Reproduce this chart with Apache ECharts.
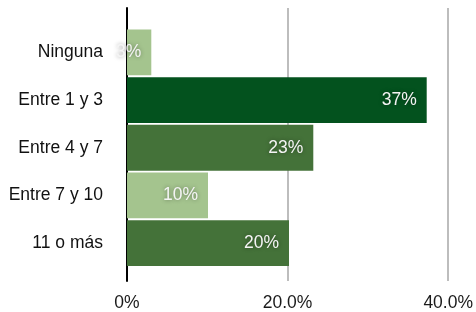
<!DOCTYPE html>
<html><head><meta charset="utf-8">
<script src="https://cdn.jsdelivr.net/npm/echarts@6/dist/echarts.min.js"></script>
<style>html,body{margin:0;padding:0;background:#fff}#c{width:476px;height:312px}</style>
</head><body><div id="c"></div>
<script>
const categories = ['Ninguna', 'Entre 1 y 3', 'Entre 4 y 7', 'Entre 7 y 10', '11 o más'];
const values = [3, 37, 23, 10, 20];
const barColors = ['#a4c48e', '#03521e', '#447239', '#a4c48e', '#447239'];
const tickLabels = {0: '0%', 20: '20.0%', 40: '40.0%'};

const font = '"Liberation Sans", Arial, Helvetica, sans-serif';
const chart = echarts.init(document.getElementById('c'), null, {renderer: 'canvas'});
chart.setOption({
  animation: false,
  grid: [
    {left: 127, right: 25, top: 8, bottom: 25},
    {left: 127, right: 25, top: 28.5, height: 238.5}
  ],
  xAxis: [
    {gridIndex: 0, type: 'value', min: 0, max: 40, interval: 20,
     axisLine: {show: false}, axisTick: {show: false},
     splitLine: {show: true, lineStyle: {color: '#bdbdbd', width: 2}},
     axisLabel: {show: true, margin: 13, fontSize: 17.5, color: '#1a1a1a', fontFamily: font,
       formatter: v => tickLabels[v] ?? ''}},
    {gridIndex: 1, type: 'value', min: 0, max: 40, show: false}
  ],
  yAxis: [
    {gridIndex: 0, type: 'value', min: 0, max: 1,
     axisLine: {show: true, lineStyle: {color: '#000', width: 2}},
     axisTick: {show: false}, axisLabel: {show: false}, splitLine: {show: false}},
    {gridIndex: 1, type: 'category', data: categories, inverse: true,
     axisLine: {show: false}, axisTick: {show: false},
     axisLabel: {margin: 24, fontSize: 17.5, color: '#111', fontFamily: font}}
  ],
  series: [{
    type: 'bar', xAxisIndex: 1, yAxisIndex: 1,
    data: values.map((v, i) => ({value: v, itemStyle: {color: barColors[i]}})),
    barCategoryGap: '4%',
    label: {show: true, position: 'insideRight', distance: 10,
      formatter: p => p.value + '%', fontSize: 17.5, color: '#f4f4f4', fontFamily: font,
      textShadowColor: 'rgba(0,0,0,0.4)', textShadowBlur: 4}
  }]
});
</script></body></html>
